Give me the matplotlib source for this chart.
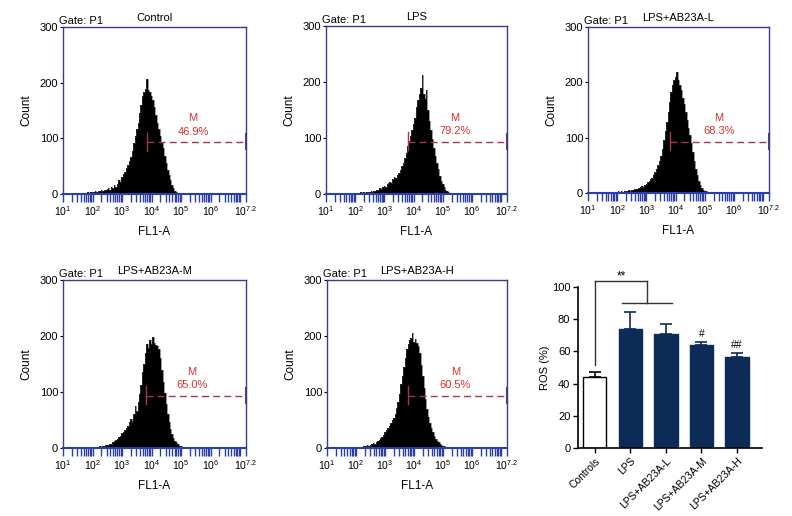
import numpy as np
import matplotlib
matplotlib.use('Agg')
import matplotlib.pyplot as plt
from matplotlib.ticker import LogLocator, NullFormatter

plt.rcParams['font.family'] = ['Liberation Sans', 'DejaVu Sans']
plt.rcParams['mathtext.fontset'] = 'custom'
plt.rcParams['mathtext.rm'] = 'Liberation Sans'
plt.rcParams['mathtext.it'] = 'Liberation Sans:italic'
plt.rcParams['mathtext.bf'] = 'Liberation Sans:bold'

""" ROS flow cytometry histograms (FL1-A) + summary bar chart """

BIN = 0.05  # channel width in decades

# histogram counts, one value per channel, starting at log10 = *_start
control_start = 1.50
control_counts = [0, 1, 0, 1, 2, 1, 2, 3, 2, 3, 4, 3, 5, 4, 6, 5, 7, 6, 8, 7,
                  9, 11, 8, 13, 10, 16, 12, 18, 26, 22, 30, 36, 40, 46, 52, 59, 66, 78, 92, 104,
                  116, 128, 145, 160, 176, 184, 188, 206, 186, 183, 176, 168, 156, 142, 128, 116, 104, 94, 82, 68,
                  56, 44, 34, 25, 17, 11, 6, 3, 1, 0]

lps_start = 1.80
lps_counts = [0, 1, 0, 1, 2, 1, 2, 1, 3, 2, 3, 2, 4, 3, 4, 5, 4, 6, 5, 7,
              8, 10, 9, 12, 14, 13, 17, 19, 22, 20, 26, 30, 28, 34, 38, 42, 50, 56, 64, 74,
              86, 95, 104, 115, 125, 136, 155, 168, 178, 190, 212, 178, 170, 185, 150, 130, 115, 98, 82, 68,
              55, 44, 33, 24, 17, 12, 8, 5, 3, 2, 1, 0]

low_start = 1.70
low_counts = [0, 1, 0, 1, 2, 1, 2, 3, 2, 3, 2, 4, 3, 4, 5, 4, 6, 5, 7, 8,
              7, 9, 10, 12, 11, 14, 16, 19, 22, 25, 28, 32, 38, 44, 50, 57, 66, 80, 95, 112,
              128, 146, 165, 182, 196, 204, 210, 218, 205, 196, 186, 172, 160, 146, 132, 118, 104, 90, 74, 58,
              44, 32, 22, 14, 9, 6, 4, 3, 2, 1, 0]

mid_start = 1.90
mid_counts = [0, 1, 0, 1, 2, 1, 2, 3, 2, 4, 3, 5, 6, 5, 7, 8, 10, 12, 14, 16,
              19, 22, 26, 29, 32, 36, 40, 46, 52, 48, 60, 75, 66, 82, 96, 112, 135, 150, 170, 186,
              178, 192, 185, 199, 188, 184, 182, 176, 160, 140, 118, 98, 78, 60, 46, 34, 25, 18, 13, 10,
              7, 4, 3, 1, 0]

high_start = 1.90
high_counts = [0, 1, 0, 1, 2, 1, 2, 3, 4, 3, 5, 4, 6, 7, 9, 8, 10, 13, 15, 17,
               20, 24, 28, 32, 36, 40, 45, 50, 54, 60, 72, 82, 96, 115, 128, 145, 160, 176, 185, 192,
               196, 205, 190, 194, 188, 182, 170, 148, 128, 108, 88, 70, 55, 44, 35, 28, 22, 16, 13, 11,
               8, 6, 4, 3, 2, 1, 0]

titles = ["Control", "LPS", "LPS+AB23A-L", "LPS+AB23A-M", "LPS+AB23A-H"]
starts = [control_start, lps_start, low_start, mid_start, high_start]
counts = [control_counts, lps_counts, low_counts, mid_counts, high_counts]
gate_start = [3.85, 3.80, 3.80, 3.82, 3.80]   # log10 of M gate left edge
gate_pct = ["46.9%", "79.2%", "68.3%", "65.0%", "60.5%"]
label_pos = [5.41, 5.42, 5.49, 5.37, 5.42]    # log10 x of the M label

# bar chart
groups = ["Controls", "LPS", "LPS+AB23A-L", "LPS+AB23A-M", "LPS+AB23A-H"]
ros = [44.4, 74.2, 70.5, 63.9, 56.3]
ros_err = [3.0, 10.3, 6.8, 2.1, 2.9]
marks = ["", "", "", "#", "##"]

navy = '#0d2b57'
frame = '#3b3b8f'
tickblue = '#2b3fa5'
gate_col = '#a8364e'
red = '#d9302f'

W, H = 792, 516
fig = plt.figure(figsize=(W / 100, H / 100), dpi=100)


def box(l, t, r, b):
    return [l / W, 1 - b / H, (r - l) / W, (b - t) / H]


hist_boxes = [box(63, 27, 246, 194), box(326, 26, 507, 194), box(588, 27, 769, 193),
              box(63, 280, 246, 448), box(327, 280, 507, 448)]

xt = [10.0 ** k for k in range(1, 8)] + [10 ** 7.2]
xtl = ['$10^{%d}$' % k for k in range(1, 7)] + ['', '$10^{7.2}$']

for i in range(5):
    ax = fig.add_axes(hist_boxes[i])
    c = np.array(counts[i], dtype=float)
    edges = 10 ** (starts[i] + BIN * np.arange(len(c) + 1) - BIN / 2)
    ax.stairs(c, edges, fill=True, color='black', lw=0)
    ax.stairs(c, edges, color='#444444', lw=0.4)

    ax.set_xscale('log')
    ax.set_xlim(10, 10 ** 7.2)
    ax.set_ylim(0, 300)
    ax.set_xticks(xt)
    ax.set_xticklabels(xtl)
    ax.xaxis.set_minor_locator(LogLocator(base=10, subs=np.arange(2, 10), numticks=20))
    ax.xaxis.set_minor_formatter(NullFormatter())
    ax.set_yticks([0, 100, 200, 300])
    ax.tick_params(axis='x', which='both', direction='out', length=5.5, width=1,
                   color=tickblue, labelsize=7.5, pad=2)
    ax.tick_params(axis='y', direction='out', length=2.5, width=0.8, labelsize=8, pad=1)
    for s in ['top', 'right', 'left']:
        ax.spines[s].set_color(frame)
        ax.spines[s].set_linewidth(1)
    ax.spines['bottom'].set_color(tickblue)
    ax.spines['bottom'].set_linewidth(1.5)

    ax.set_title(titles[i], fontsize=8, pad=4)
    ax.annotate("Gate: P1", xy=(0, 1), xycoords='axes fraction', xytext=(-3, 1),
                textcoords='offset points', fontsize=8, ha='left', va='bottom')
    ax.set_xlabel("FL1-A", fontsize=8.5)
    ax.set_ylabel("Count", fontsize=8.5)
    ax.xaxis.set_label_coords(0.5, -0.19)
    ax.yaxis.set_label_coords(-0.17, 0.5)

    # M gate
    g = 10 ** gate_start[i]
    ax.plot([g, 10 ** 7.2], [93, 93], ls=(0, (5, 3)), color=gate_col, lw=1, clip_on=False)
    ax.plot([g, g], [78, 110], color=gate_col, lw=1)
    ax.plot([10 ** 7.2] * 2, [80, 107], color='#5a3a8a', lw=1.5, clip_on=False)
    ax.text(10 ** label_pos[i], 136, "M", color=red, fontsize=8, ha='center', va='center')
    ax.text(10 ** label_pos[i], 112, gate_pct[i], color=red, fontsize=8, ha='center', va='center')

# ROS summary
bx = fig.add_axes(box(578, 287, 762, 448))
x = np.arange(len(groups))
cols = ['white'] + [navy] * 4
edgec = ['black'] + [navy] * 4
bx.bar(x, ros, width=0.66, color=cols, edgecolor=edgec, linewidth=1)
for k in range(len(groups)):
    bx.errorbar(x[k], ros[k], yerr=[[0], [ros_err[k]]], fmt='none', ecolor=edgec[k],
                elinewidth=1.2, capsize=4.5, capthick=1.2)
    if marks[k]:
        bx.text(x[k], ros[k] + ros_err[k] + 1.5, marks[k], fontsize=7.5, ha='center', va='bottom')

# significance bracket
bk = dict(color='#333333', lw=1, clip_on=False)
bx.plot([0, 0], [51.5, 103.5], **bk)
bx.plot([0, 1.46], [103.5, 103.5], **bk)
bx.plot([1.46, 1.46], [90, 103.5], **bk)
bx.plot([0.78, 2.16], [90, 90], **bk)
bx.text(0.75, 106.5, "**", fontsize=8.5, ha='center', va='center')

bx.set_xlim(-0.47, 4.7)
bx.set_ylim(0, 100)
bx.set_yticks(range(0, 101, 20))
bx.set_xticks(x)
bx.set_xticklabels(groups, rotation=45, ha='right', rotation_mode='anchor', fontsize=7.5)
bx.tick_params(axis='both', direction='out', length=3.5, width=1, pad=2)
bx.tick_params(axis='y', labelsize=8)
bx.spines['top'].set_visible(False)
bx.spines['right'].set_visible(False)
bx.spines['left'].set_linewidth(1.2)
bx.spines['bottom'].set_linewidth(1.2)
bx.set_ylabel("ROS (%)", fontsize=8)
bx.yaxis.set_label_coords(-0.15, 0.5)

plt.savefig("out.png", dpi=100)
